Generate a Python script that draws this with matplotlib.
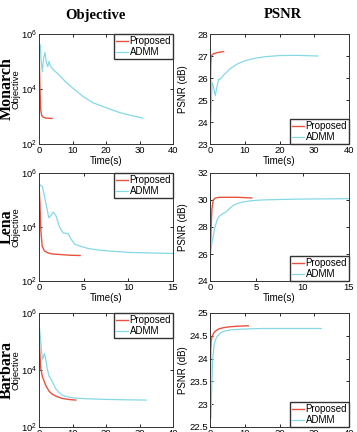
import matplotlib.pyplot as plt
import numpy as np

RED = "#e8533e"
CYAN = "#86d8e6"

# Monarch
mon_obj_prop_t = [0, 0.1, 0.25, 0.5, 0.8, 1.2, 2.0, 3.0, 3.9]
mon_obj_prop_v = [3e5, 1e5, 1.5e4, 1.8e3, 1.1e3, 950, 880, 860, 850]
mon_obj_admm_t = [0.4, 0.6, 1.0, 1.4, 1.8, 2.2, 2.6, 3.0, 3.4, 4.0, 6, 8, 10, 13, 16, 20, 24, 28, 31]
mon_obj_admm_v = [4e5, 1.2e5, 4.3e4, 1.4e5, 2.1e5, 9e4, 6.5e4, 1.0e5, 7e4, 5.5e4, 3.2e4, 1.8e4,
                  1.1e4, 5.5e3, 3.2e3, 2.1e3, 1.4e3, 1.05e3, 880]
mon_psnr_prop_t = [0, 0.1, 0.2, 0.35, 0.6, 1.0, 2.0, 3.0, 3.9]
mon_psnr_prop_v = [23.0, 24.5, 26.5, 27.0, 27.05, 27.1, 27.15, 27.18, 27.2]
mon_psnr_admm_t = [0, 0.3, 0.6, 1.0, 1.5, 2.0, 2.5, 3.0, 4.0, 6, 8, 10, 13, 16, 20, 25, 31]
mon_psnr_admm_v = [23.1, 24.5, 25.8, 25.6, 25.2, 25.6, 25.95, 25.95, 26.15, 26.45, 26.65, 26.78,
                   26.9, 26.97, 27.02, 27.03, 27.0]

# Lena
lena_obj_prop_t = [0, 0.1, 0.2, 0.35, 0.6, 1.0, 1.5, 2.5, 3.5, 4.6]
lena_obj_prop_v = [4e5, 8e4, 8e3, 2e3, 1.3e3, 1.1e3, 1.0e3, 950, 900, 880]
lena_obj_admm_t = [0, 0.4, 0.7, 1.1, 1.3, 1.6, 1.9, 2.3, 2.7, 3.0, 3.3, 3.6, 4.0, 4.5, 5.5, 7, 10, 13, 15]
lena_obj_admm_v = [4e5, 3e5, 1e5, 2.2e4, 2.6e4, 3.6e4, 2.6e4, 1.0e4, 6e3, 5.9e3, 5.5e3, 3.5e3, 2.3e3,
                   2.0e3, 1.6e3, 1.35e3, 1.15e3, 1.08e3, 1.05e3]
lena_psnr_prop_t = [0, 0.1, 0.2, 0.35, 0.6, 1.0, 2.0, 3.0, 4.5]
lena_psnr_prop_v = [25.8, 27.5, 29.3, 30.0, 30.15, 30.2, 30.2, 30.2, 30.15]
lena_psnr_admm_t = [0, 0.2, 0.5, 0.8, 1.0, 1.4, 1.7, 2.0, 2.5, 3.0, 3.5, 4.5, 5.5, 7, 9, 12, 15]
lena_psnr_admm_v = [25.8, 26.8, 27.9, 28.6, 28.8, 29.0, 29.1, 29.3, 29.6, 29.75, 29.85, 29.95,
                    30.0, 30.03, 30.06, 30.08, 30.1]

# Barbara
bar_obj_prop_t = [0, 0.2, 0.5, 1.0, 2.0, 3.0, 4.0, 5.5, 7, 9, 11]
bar_obj_prop_v = [4.5e5, 5e4, 1.2e4, 6e3, 2.9e3, 1.8e3, 1.4e3, 1.15e3, 1.0e3, 920, 880]
bar_obj_admm_t = [0, 0.5, 1.0, 1.3, 1.6, 2.0, 2.4, 3.0, 3.5, 4.0, 5.0, 6.0, 7.0, 8.5, 10, 14, 20, 26, 32]
bar_obj_admm_v = [4.5e5, 1e5, 2.4e4, 2.8e4, 3.8e4, 2.5e4, 1.2e4, 6e3, 5e3, 3.8e3, 2.2e3, 1.6e3,
                  1.3e3, 1.15e3, 1.05e3, 980, 930, 900, 880]
bar_psnr_prop_t = [0, 0.1, 0.2, 0.35, 0.6, 1.0, 1.5, 2.5, 4.0, 6, 8, 11]
bar_psnr_prop_v = [22.6, 23.5, 24.2, 24.4, 24.48, 24.55, 24.6, 24.65, 24.68, 24.7, 24.71, 24.72]
bar_psnr_admm_t = [0.3, 0.5, 0.8, 1.1, 1.5, 2.0, 3.0, 4.0, 6, 10, 15, 20, 26, 32]
bar_psnr_admm_v = [22.7, 23.4, 24.0, 24.25, 24.4, 24.48, 24.56, 24.6, 24.63, 24.65, 24.66, 24.66,
                   24.66, 24.66]

rows = ["Monarch", "Lena", "Barbara"]
xlims = [40, 15, 40]
xticks = [[0, 10, 20, 30, 40], [0, 5, 10, 15], [0, 10, 20, 30, 40]]
psnr_lims = [(23, 28), (24, 32), (22.5, 25)]
psnr_ticks = [[23, 24, 25, 26, 27, 28], [24, 26, 28, 30, 32], [22.5, 23, 23.5, 24, 24.5, 25]]
obj_data = [
    (mon_obj_prop_t, mon_obj_prop_v, mon_obj_admm_t, mon_obj_admm_v),
    (lena_obj_prop_t, lena_obj_prop_v, lena_obj_admm_t, lena_obj_admm_v),
    (bar_obj_prop_t, bar_obj_prop_v, bar_obj_admm_t, bar_obj_admm_v),
]
psnr_data = [
    (mon_psnr_prop_t, mon_psnr_prop_v, mon_psnr_admm_t, mon_psnr_admm_v),
    (lena_psnr_prop_t, lena_psnr_prop_v, lena_psnr_admm_t, lena_psnr_admm_v),
    (bar_psnr_prop_t, bar_psnr_prop_v, bar_psnr_admm_t, bar_psnr_admm_v),
]

plt.rcParams["font.family"] = ["Liberation Sans", "DejaVu Sans"]
plt.rcParams["font.size"] = 7

fig = plt.figure(figsize=(3.57, 4.32), dpi=100)

# axes boxes in pixels: (left, right) and (top, bottom)
row_px = [(34, 144), (173, 281), (313, 427)]
col_px = [(39, 173), (210, 349)]
W, H = 357.0, 432.0


def make_ax(col, row):
    l, r = col_px[col]
    t, b = row_px[row]
    return fig.add_axes([l / W, 1 - b / H, (r - l) / W, (b - t) / H])


def style(ax):
    ax.tick_params(direction="in", length=2, width=0.6, labelsize=6.8, pad=1.5,
                   top=True, right=True)
    for s in ax.spines.values():
        s.set_linewidth(0.7)
        s.set_color("#333333")


def add_legend(ax, loc):
    ax.legend(loc=loc, fontsize=7, frameon=True, fancybox=False,
              edgecolor="#333333", borderaxespad=0, handlelength=1.2,
              handletextpad=0.2, borderpad=0.2, labelspacing=0.1,
              framealpha=1)


for i, name in enumerate(rows):
    # objective
    ax = make_ax(0, i)
    pt, pv, at, av = obj_data[i]
    ax.semilogy(pt, pv, color=RED, lw=1.0, label="Proposed")
    ax.semilogy(at, av, color=CYAN, lw=0.9, label="ADMM")
    ax.set_xlim(0, xlims[i])
    ax.set_ylim(1e2, 1e6)
    ax.set_yticks([1e2, 1e4, 1e6])
    ax.minorticks_off()
    ax.set_xticks(xticks[i])
    ax.set_ylabel("Objective", fontsize=6.8)
    ax.yaxis.set_label_coords(-0.135, 0.5)
    ax.set_xlabel("Time(s)", fontsize=7, labelpad=1)
    style(ax)
    add_legend(ax, "upper right")
    fig.text(0.019, 1 - (row_px[i][0] + row_px[i][1]) / 2 / H, name, rotation=90,
             ha="center", va="center", fontsize=11.5, fontweight="bold",
             family="Liberation Serif")

    # psnr
    ax = make_ax(1, i)
    pt, pv, at, av = psnr_data[i]
    ax.plot(pt, pv, color=RED, lw=1.0, label="Proposed")
    ax.plot(at, av, color=CYAN, lw=0.9, label="ADMM")
    ax.set_xlim(0, xlims[i])
    ax.set_ylim(*psnr_lims[i])
    ax.set_yticks(psnr_ticks[i])
    ax.set_yticklabels([f"{v:g}" for v in psnr_ticks[i]])
    ax.set_xticks(xticks[i])
    ax.set_ylabel("PSNR (dB)", fontsize=7)
    ax.yaxis.set_label_coords(-0.155, 0.5)
    ax.set_xlabel("Time(s)", fontsize=7, labelpad=1)
    style(ax)
    add_legend(ax, "lower right")

fig.text(95 / W, 1 - 15 / H, "Objective", ha="center", va="center", fontsize=10.5,
         fontweight="bold", family="Liberation Serif")
fig.text(283 / W, 1 - 15 / H, "PSNR", ha="center", va="center", fontsize=10.5,
         fontweight="bold", family="Liberation Serif")

fig.savefig("out.png", dpi=100)
